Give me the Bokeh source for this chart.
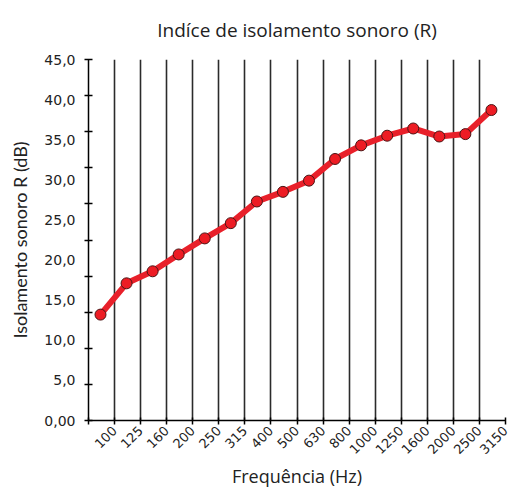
import math
import numpy as np
from bokeh.plotting import figure
from bokeh.models import FixedTicker, Range1d
from bokeh.embed import file_html
from bokeh.resources import INLINE

freqs = ["100", "125", "160", "200", "250", "315", "400", "500", "630", "800",
         "1000", "1250", "1600", "2000", "2500", "3150"]
r_values = [13.2, 17.1, 18.6, 20.7, 22.7, 24.6, 27.3, 28.5, 29.9, 32.6,
            34.3, 35.5, 36.4, 35.4, 35.7, 38.7]
y_label_values = [0, 5, 10, 15, 20, 25, 30, 35, 40, 45]
y_label_texts = ["0,00", "5,0", "10,0", "15,0", "20,0", "25,0", "30,0", "35,0", "40,0", "45,0"]

n = len(freqs)
x_pts = np.arange(n) + 0.46

p = figure(width=513, height=491, output_backend="svg", toolbar_location=None,
           x_range=Range1d(0, n), y_range=Range1d(0, 45),
           min_border_left=88, min_border_right=8, min_border_top=59, min_border_bottom=69,
           title="Indíce de isolamento sonoro (R)")
p.outline_line_color = None
p.background_fill_color = "white"
p.border_fill_color = "white"

p.title.align = "center"
p.title.vertical_align = "top"
p.title.text_font = "Open Sans"
p.title.text_font_size = "19px"
p.title.text_font_style = "normal"
p.title.text_color = "#222222"
p.title.standoff = 29

# x axis
xa = p.xaxis[0]
xa.ticker = FixedTicker(ticks=list(range(1, n + 1)), minor_ticks=list(range(0, n + 1)))
xa.major_label_overrides = {i + 1: f for i, f in enumerate(freqs)}
xa.major_label_orientation = math.pi / 4
xa.major_tick_in = 0
xa.major_tick_out = 0
xa.minor_tick_in = 3
xa.minor_tick_out = 4
xa.minor_tick_line_color = "black"
xa.minor_tick_line_width = 1.5
xa.axis_line_color = "black"
xa.axis_line_width = 1.5
xa.major_label_text_font = "DejaVu Sans"
xa.major_label_text_font_size = "13px"
xa.major_label_text_color = "#222222"
xa.major_label_standoff = 4
xa.axis_label = "Frequência (Hz)"
xa.axis_label_text_font = "Open Sans"
xa.axis_label_text_font_size = "18px"
xa.axis_label_text_font_style = "normal"
xa.axis_label_text_color = "#222222"
xa.axis_label_standoff = 3

# y axis
ya = p.yaxis[0]
ya.ticker = FixedTicker(ticks=y_label_values,
                        minor_ticks=[k * 4.5 for k in range(11)])
ya.major_label_overrides = dict(zip(y_label_values, y_label_texts))
ya.major_tick_in = 0
ya.major_tick_out = 0
ya.minor_tick_in = 4
ya.minor_tick_out = 4
ya.minor_tick_line_color = "black"
ya.minor_tick_line_width = 1.5
ya.axis_line_color = "black"
ya.axis_line_width = 1.5
ya.major_label_text_font = "DejaVu Sans"
ya.major_label_text_font_size = "14px"
ya.major_label_text_color = "#222222"
ya.major_label_standoff = 9
ya.axis_label = "Isolamento sonoro R (dB)"
ya.axis_label_text_font = "Lato"
ya.axis_label_text_font_size = "18px"
ya.axis_label_text_font_style = "normal"
ya.axis_label_text_color = "#222222"
ya.axis_label_standoff = 10

# grid
p.ygrid.visible = False
p.xgrid.ticker = FixedTicker(ticks=list(range(0, n + 1)))
p.xgrid.grid_line_color = "#2b2b2b"
p.xgrid.grid_line_width = 1.6

p.line(x_pts, r_values, line_color="#e8202a", line_width=6)
p.scatter(x_pts, r_values, size=11, fill_color="#ed1c24", line_color="#4a1515", line_width=1)

open("out.html", "w").write(file_html(p, INLINE))
